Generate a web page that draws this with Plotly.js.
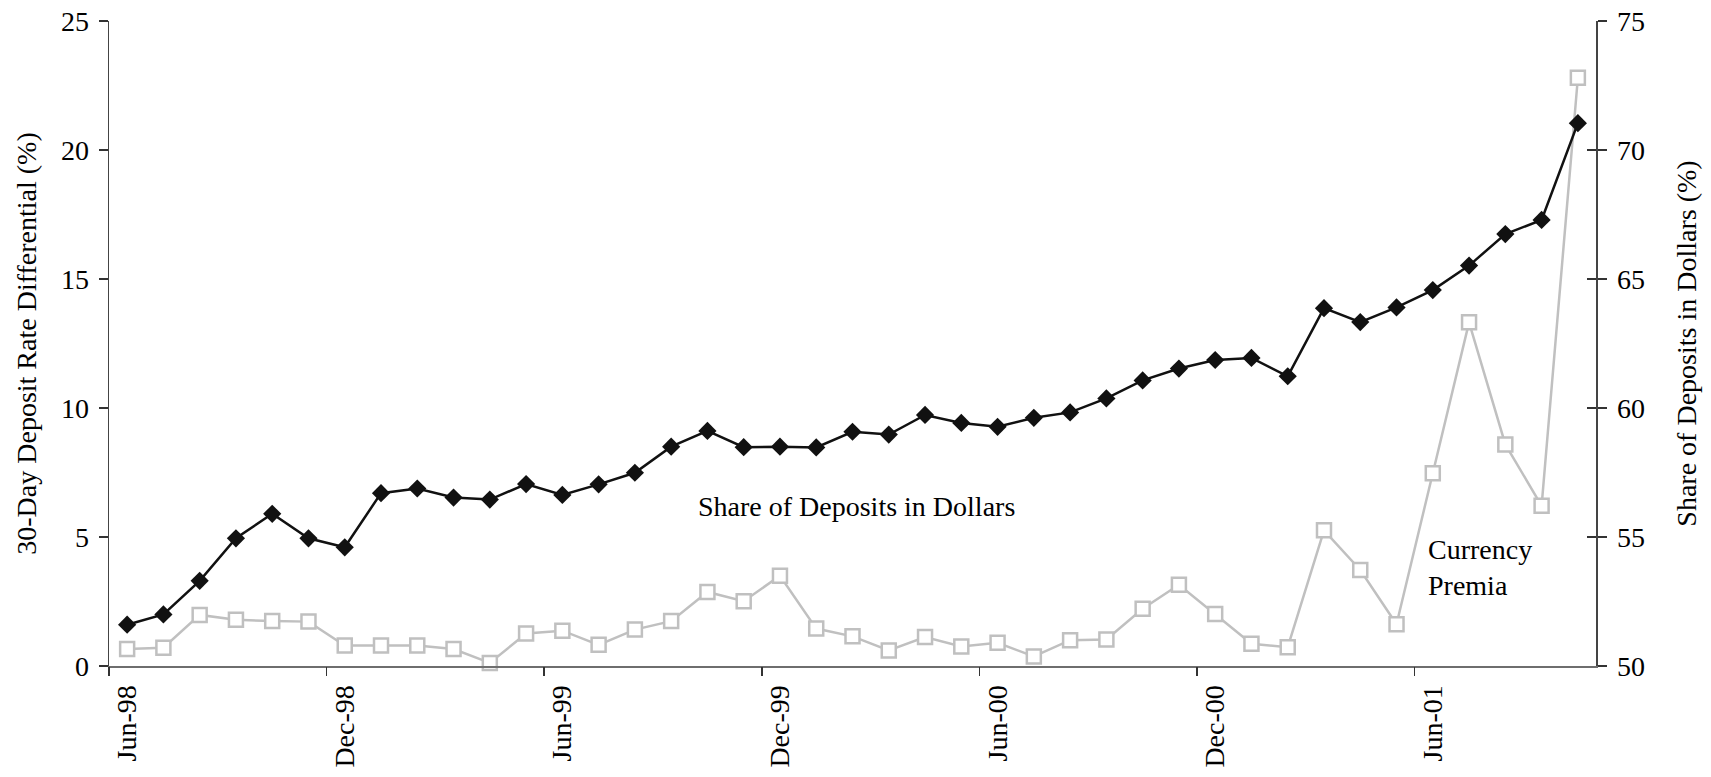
<!DOCTYPE html>
<html>
<head>
<meta charset="utf-8">
<script src="https://cdn.plot.ly/plotly-3.0.1.min.js"></script>
<style>html,body{margin:0;padding:0;background:#fff;}#chart{width:1711px;height:777px;}</style>
</head>
<body>
<div id="chart"></div>
<script>
const months = ["Jun-98","Jul-98","Aug-98","Sep-98","Oct-98","Nov-98","Dec-98",
  "Jan-99","Feb-99","Mar-99","Apr-99","May-99","Jun-99","Jul-99","Aug-99","Sep-99","Oct-99","Nov-99","Dec-99",
  "Jan-00","Feb-00","Mar-00","Apr-00","May-00","Jun-00","Jul-00","Aug-00","Sep-00","Oct-00","Nov-00","Dec-00",
  "Jan-01","Feb-01","Mar-01","Apr-01","May-01","Jun-01","Jul-01","Aug-01","Sep-01","Oct-01"];

// Share of deposits in dollars (%), right axis
const shareDollars = [51.6,52.0,53.3,54.95,55.9,54.95,54.6,56.7,56.88,56.53,56.45,57.05,56.63,57.04,57.49,58.5,59.11,58.48,58.5,58.47,59.08,58.97,59.73,59.42,59.27,59.62,59.83,60.37,61.07,61.53,61.86,61.94,61.23,63.87,63.33,63.9,64.57,65.52,66.74,67.29,71.04];

// Currency premia: 30-day deposit rate differential (%), left axis
const currencyPremia = [0.66,0.71,1.98,1.79,1.74,1.72,0.79,0.79,0.79,0.66,0.12,1.26,1.37,0.82,1.41,1.74,2.87,2.51,3.5,1.45,1.15,0.6,1.12,0.76,0.9,0.37,1.0,1.03,2.22,3.15,2.02,0.86,0.73,5.26,3.72,1.62,7.47,13.32,8.59,6.21,22.8];

const tickLabels = ["Jun-98","Dec-98","Jun-99","Dec-99","Jun-00","Dec-00","Jun-01"];

const boundaryTicks = tickLabels.map(function(m){ return months.indexOf(m) - 0.5; });
const xRange = [-0.5, months.length - 0.5];

const FONT = "Liberation Serif, Times New Roman, serif";

const traces = [
  {
    x: months, y: currencyPremia, type: "scatter", mode: "lines+markers",
    name: "Currency Premia", xaxis: "x", yaxis: "y",
    line: {color: "#c0c0c0", width: 2.5},
    marker: {symbol: "square", size: 14, color: "#ffffff", line: {color: "#c0c0c0", width: 2.5}},
    cliponaxis: false
  },
  {
    x: months, y: shareDollars, type: "scatter", mode: "lines+markers",
    name: "Share of Deposits in Dollars", xaxis: "x", yaxis: "y2",
    line: {color: "#111111", width: 2.5},
    marker: {symbol: "diamond", size: 14, color: "#111111"},
    cliponaxis: false
  },
  // carrier traces so the overlay axes (boundary ticks / inward ticks) are drawn
  {x: [], y: [], type: "scatter", mode: "lines", xaxis: "x2", yaxis: "y", showlegend: false, hoverinfo: "skip"},
  {x: [], y: [], type: "scatter", mode: "lines", xaxis: "x", yaxis: "y3", showlegend: false, hoverinfo: "skip"}
];

const layout = {
  width: 1711, height: 777,
  margin: {l: 109, r: 115, t: 21, b: 111},
  paper_bgcolor: "#ffffff", plot_bgcolor: "#ffffff",
  showlegend: false,
  font: {family: FONT, size: 28, color: "#000000"},
  xaxis: {
    type: "category", range: xRange,
    tickmode: "array", tickvals: tickLabels, ticktext: tickLabels,
    tickangle: -90, ticks: "", ticklabelstandoff: 6,
    tickfont: {family: FONT, size: 28, color: "#000"},
    showgrid: false, zeroline: false,
    showline: true, linecolor: "#6e6e6e", linewidth: 2,
    automargin: false
  },
  xaxis2: {
    overlaying: "x", anchor: "y", side: "bottom", type: "linear",
    range: xRange, tickmode: "array", tickvals: boundaryTicks,
    ticks: "outside", ticklen: 9, tickwidth: 1.5, tickcolor: "#333",
    showticklabels: false, showgrid: false, zeroline: false, showline: false
  },
  yaxis: {
    range: [0, 25], tickmode: "array", tickvals: [0, 5, 10, 15, 20, 25],
    ticks: "outside", ticklen: 9, tickwidth: 1.5, tickcolor: "#333",
    ticklabelstandoff: 4,
    tickfont: {family: FONT, size: 28, color: "#000"},
    showgrid: false, zeroline: false,
    showline: true, linecolor: "#444", linewidth: 1.5,
    title: {text: "30-Day Deposit Rate Differential (%)", font: {family: FONT, size: 28, color: "#000"}, standoff: 16},
    automargin: false
  },
  yaxis2: {
    overlaying: "y", side: "right", anchor: "x",
    range: [50, 75], tickmode: "array", tickvals: [50, 55, 60, 65, 70, 75],
    ticks: "outside", ticklen: 9, tickwidth: 1.5, tickcolor: "#333",
    ticklabelstandoff: 5,
    tickfont: {family: FONT, size: 28, color: "#000"},
    showgrid: false, zeroline: false,
    showline: true, linecolor: "#444", linewidth: 1.5,
    title: {text: "Share of Deposits in Dollars (%)", font: {family: FONT, size: 28, color: "#000"}, standoff: 32},
    automargin: false
  },
  yaxis3: {
    overlaying: "y", side: "right", anchor: "x",
    range: [50, 75], tickmode: "array", tickvals: [50, 55, 60, 65, 70, 75],
    ticks: "inside", ticklen: 9, tickwidth: 1.5, tickcolor: "#333",
    showticklabels: false, showgrid: false, zeroline: false, showline: false
  },
  annotations: [
    {text: "Share of Deposits in Dollars", xref: "paper", yref: "paper",
     x: 0.503, y: 0.248, xanchor: "center", yanchor: "middle", showarrow: false,
     font: {family: FONT, size: 28, color: "#000"}},
    {text: "Currency<br>Premia", xref: "paper", yref: "paper",
     x: 0.886, y: 0.152, xanchor: "left", yanchor: "middle", align: "left", showarrow: false,
     font: {family: FONT, size: 28, color: "#000"}}
  ]
};

Plotly.newPlot("chart", traces, layout, {staticPlot: true, displayModeBar: false});
</script>
</body>
</html>
